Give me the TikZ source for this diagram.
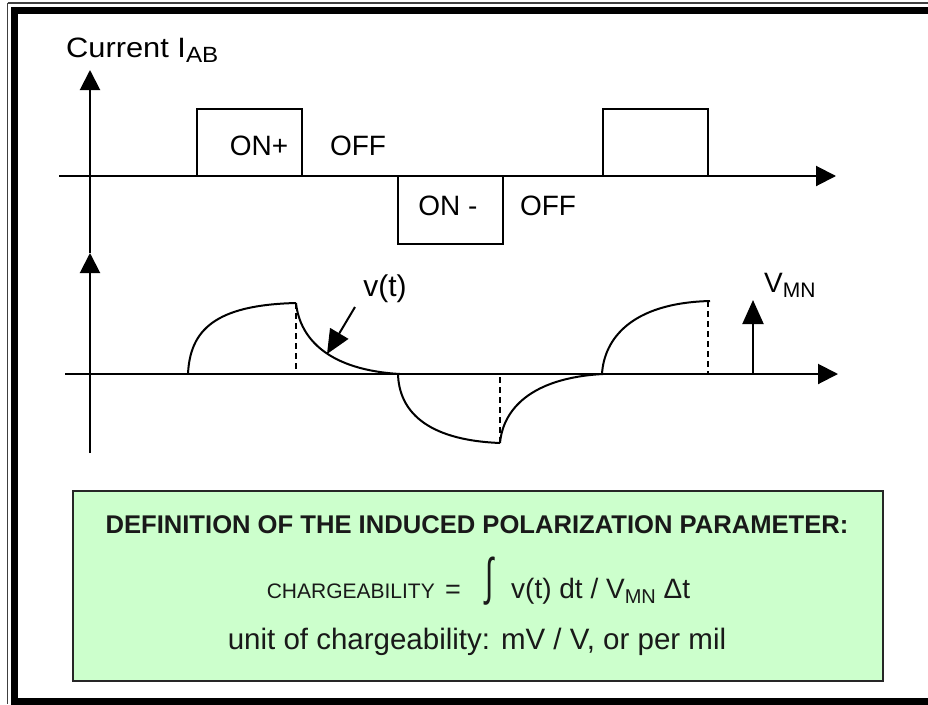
\documentclass[tikz,border=0pt]{standalone}
\usepackage{fontspec}
\setmainfont{Liberation Sans}
\usetikzlibrary{arrows.meta}
\definecolor{boxgreen}{HTML}{CCFFCC}
\begin{document}
\begin{tikzpicture}[x=1pt,y=-1pt,
  axis/.style={line width=2pt,-{Triangle[length=20pt,width=20pt]}},
  pointer/.style={line width=2pt,-{Triangle[length=24pt,width=21pt]}},
  pulse/.style={line width=1.8pt},
  curve/.style={line width=2pt},
  guide/.style={line width=1.8pt,dash pattern=on 6pt off 4pt},
  lbl/.style={inner sep=0pt,font=\fontsize{28}{30}\selectfont}]
\fill[white] (0,0) rectangle (928,704);
\useasboundingbox (0,0) rectangle (928,704);
% frame
\draw[line width=1.4pt,black!75] (7.5,3) -- (928,3);
\draw[line width=1.4pt,black!75] (7.5,3) -- (7.5,704);
\draw[line width=7pt] (928,10.5) -- (14.5,10.5) -- (14.5,704);
\draw[line width=7pt] (11,701.5) -- (928,701.5);
% axes
\coordinate (v0) at (90,453);
\coordinate (v1) at (90,253);
\coordinate (v2) at (90,70);
\coordinate (h1s) at (59,176);
\coordinate (h1e) at (836,176);
\coordinate (h2s) at (65,374);
\coordinate (h2e) at (838,374);
\draw[axis] (v0) -- (v1);
\draw[axis] (v1) -- (v2);
\draw[axis] (h1s) -- (h1e);
\draw[axis] (h2s) -- (h2e);
% current pulses
\draw[pulse] (197,176) -- (197,109) -- (302,109) -- (302,176);
\draw[pulse] (398,176) -- (398,244) -- (503,244) -- (503,176);
\draw[pulse] (603,176) -- (603,109) -- (708,109) -- (708,176);
% voltage response
\draw[curve] (188,374) .. controls (190,330) and (215,305) .. (296,303);
\draw[curve] (296,303) .. controls (300,340) and (330,370) .. (400,374);
\draw[curve] (398,374) .. controls (399,410) and (425,440) .. (500,443);
\draw[curve] (500,443) .. controls (503,410) and (530,378) .. (603,374);
\draw[curve] (602,374) .. controls (604,340) and (630,303) .. (710,301);
\draw[guide] (296,303) -- (296,374);
\draw[guide] (500,443) -- (500,374);
\draw[guide] (708,301) -- (708,374);
% labels
\node[lbl,anchor=base west] (cur) at (66,57) {\scalebox{1.1}[1]{Current I\raisebox{-5pt}{\fontsize{22}{23}\selectfont AB}}};
\node[lbl,anchor=base] (onp) at (259,155) {ON+};
\node[lbl,anchor=base] (off1) at (358,155) {OFF};
\node[lbl,anchor=base] (onm) at (448,215) {ON -};
\node[lbl,anchor=base] (off2) at (548,215) {OFF};
\node[lbl,anchor=base,font=\fontsize{30}{32}\selectfont] (vt) at (385,296) {v(t)};
\coordinate (vta) at (355,307);
\coordinate (vtb) at (327,354);
\draw[pointer] (vta) -- (vtb);
\node[lbl,anchor=base west] (vmn) at (764,292) {V\raisebox{-5pt}{\fontsize{21}{22}\selectfont MN}};
\coordinate (vma) at (753,374);
\coordinate (vmb) at (753,300);
\draw[pointer] (vma) -- (vmb);
% definition box
\node[draw=black!85,line width=1.5pt,fill=boxgreen,minimum width=810pt,minimum height=190pt,inner sep=0pt,anchor=north west] (def) at (72,490) {};
\node[inner sep=0pt,anchor=base,font=\fontsize{25.6}{27}\selectfont\bfseries,text=black!90] (t1) at (477,533) {DEFINITION OF THE INDUCED POLARIZATION PARAMETER:};
\node[inner sep=0pt,anchor=base east,font=\fontsize{21}{22}\selectfont,text=black!90] (t2a) at (435,598) {CHARGEABILITY};
\node[inner sep=0pt,anchor=base west,font=\fontsize{27}{28}\selectfont,text=black!90] (t2b) at (445,598) {=};
\node[inner sep=0pt,text=black!90] (t2c) at (490,581) {\scalebox{1}[1.7]{\fontsize{30}{30}\selectfont ∫}};
\node[inner sep=0pt,anchor=base west,font=\fontsize{28}{30}\selectfont,text=black!90] (t2d) at (511,598) {v(t) dt / V\raisebox{-5pt}{\fontsize{20}{21}\selectfont MN} Δt};
\node[inner sep=0pt,anchor=base,font=\fontsize{29.5}{31}\selectfont,text=black!90] (t3) at (477,649) {unit of chargeability: mV / V, or per mil};
\end{tikzpicture}
\end{document}
